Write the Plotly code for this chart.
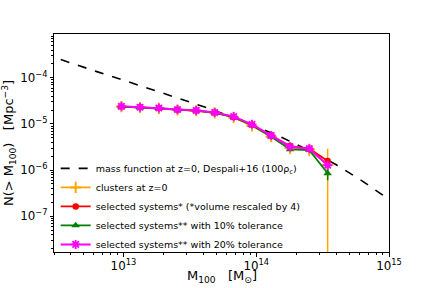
import numpy as np
import plotly.graph_objects as go

# Mass function (Despali+16)
mf_mass = [2.51e12, 3.98e12, 6.31e12, 1.0e13, 1.58e13, 2.51e13, 3.98e13, 6.31e13,
           1.0e14, 1.58e14, 2.51e14, 3.98e14, 6.31e14, 1.0e15]
mf_n = [3.30e-4, 2.09e-4, 1.36e-4, 8.87e-5, 5.79e-5, 3.76e-5, 2.39e-5, 1.48e-5,
        8.81e-6, 5.01e-6, 2.63e-6, 1.32e-6, 5.75e-7, 2.30e-7]

# binned data (log10 of mass)
log_mass = [12.985, 13.125, 13.267, 13.407, 13.548, 13.687, 13.830, 13.968,
            14.113, 14.255, 14.400, 14.538]
clusters = [2.36e-5, 2.27e-5, 2.18e-5, 2.02e-5, 1.93e-5, 1.74e-5, 1.38e-5, 9.0e-6,
            5.3e-6, 3.0e-6, 2.8e-6, 1.3e-6]
clusters_err = [2e-7, 2e-7, 2e-7, 2e-7, 2e-7, 2e-7, 3e-7, 6e-7, 7e-7, 8e-7, 8e-7, 1.6e-6]
selected = [2.38e-5, 2.29e-5, 2.20e-5, 2.04e-5, 1.95e-5, 1.76e-5, 1.42e-5, 9.6e-6,
            5.6e-6, 3.3e-6, 2.9e-6, 1.57e-6]
sel10 = [2.38e-5, 2.28e-5, 2.19e-5, 2.03e-5, 1.94e-5, 1.75e-5, 1.40e-5, 9.4e-6,
         5.3e-6, 2.8e-6, 2.7e-6, 8.5e-7]
sel10_err = [0, 0, 0, 0, 0, 0, 0, 0, 0, 0, 0, 2.5e-7]
sel20 = [2.40e-5, 2.30e-5, 2.21e-5, 2.05e-5, 1.96e-5, 1.77e-5, 1.44e-5, 9.8e-6,
         5.6e-6, 3.2e-6, 2.9e-6, 1.27e-6]

x_title = "M<sub>100</sub>   [M<sub>⊙</sub>]"
y_title = "N(> M<sub>100</sub>)   [Mpc<sup>−3</sup>]"

mass = [10 ** m for m in log_mass]

def lower(vals, errs):
    return [min(e, v * (1 - 1e-3)) for v, e in zip(vals, errs)]

fig = go.Figure()
fig.add_trace(go.Scatter(x=mf_mass, y=mf_n, mode="lines",
                         line=dict(color="black", dash="dash", width=1.6),
                         name="mass function at z=0, Despali+16 (100ρ<sub>c</sub>)"))
fig.add_trace(go.Scatter(x=mass, y=clusters, mode="lines+markers",
                         line=dict(color="orange", width=1.8),
                         marker=dict(symbol="cross-thin-open", size=8,
                                     line=dict(color="orange", width=2)),
                         error_y=dict(type="data", array=clusters_err,
                                      arrayminus=lower(clusters, clusters_err),
                                      color="orange", thickness=1.5, width=0),
                         name="clusters at z=0"))
fig.add_trace(go.Scatter(x=mass, y=selected, mode="lines+markers",
                         line=dict(color="red", width=1.8),
                         marker=dict(symbol="circle", size=6.5, color="red"),
                         name="selected systems* (*volume rescaled by 4)"))
fig.add_trace(go.Scatter(x=mass, y=sel10, mode="lines+markers",
                         line=dict(color="green", width=1.8),
                         marker=dict(symbol="triangle-up", size=7.5, color="green"),
                         error_y=dict(type="data", array=sel10_err,
                                      color="green", thickness=1.5, width=0),
                         name="selected systems** with 10% tolerance"))
fig.add_trace(go.Scatter(x=mass, y=sel20, mode="lines+markers",
                         line=dict(color="magenta", width=2),
                         marker=dict(symbol="asterisk-open", size=7.5,
                                     line=dict(color="magenta", width=1.8)),
                         name="selected systems** with 20% tolerance"))

axis_common = dict(type="log", showgrid=False, zeroline=False, showline=True,
                   linecolor="black", linewidth=1, mirror=True,
                   ticks="outside", ticklen=3.5, tickwidth=0.8, tickcolor="black",
                   dtick=1, exponentformat="power",
                   minor=dict(ticks="outside", ticklen=2, tickwidth=0.6,
                              tickcolor="black", dtick="D1", showgrid=False),
                   tickfont=dict(family="DejaVu Sans", size=9.5, color="black"),
                   automargin=False)

fig.update_xaxes(**axis_common, range=[np.log10(3e12), 15])
fig.update_yaxes(**axis_common, range=[np.log10(1.67e-8), np.log10(8.9e-4)],
                 title=dict(text=y_title,
                            font=dict(family="DejaVu Sans", size=13, color="black"),
                            standoff=4))

fig.add_annotation(text=x_title, xref="paper", yref="paper", x=0.5, y=-0.158,
                   xanchor="center", yanchor="bottom", showarrow=False, borderpad=0,
                   font=dict(family="DejaVu Sans", size=13, color="black"))

fig.update_layout(width=432, height=288,
                  margin=dict(l=54, r=43, t=34, b=36),
                  paper_bgcolor="white", plot_bgcolor="white",
                  font=dict(family="DejaVu Sans", color="black"),
                  legend=dict(x=0.005, y=0.45, xanchor="left", yanchor="top",
                              bgcolor="rgba(0,0,0,0)", borderwidth=0,
                              font=dict(family="DejaVu Sans", size=9.5, color="black"),
                              tracegroupgap=0, itemwidth=30),
                  showlegend=True)

fig.write_html("out.html", config={"displayModeBar": False},
               post_script="document.body.style.margin='0';document.body.style.padding='0';")
